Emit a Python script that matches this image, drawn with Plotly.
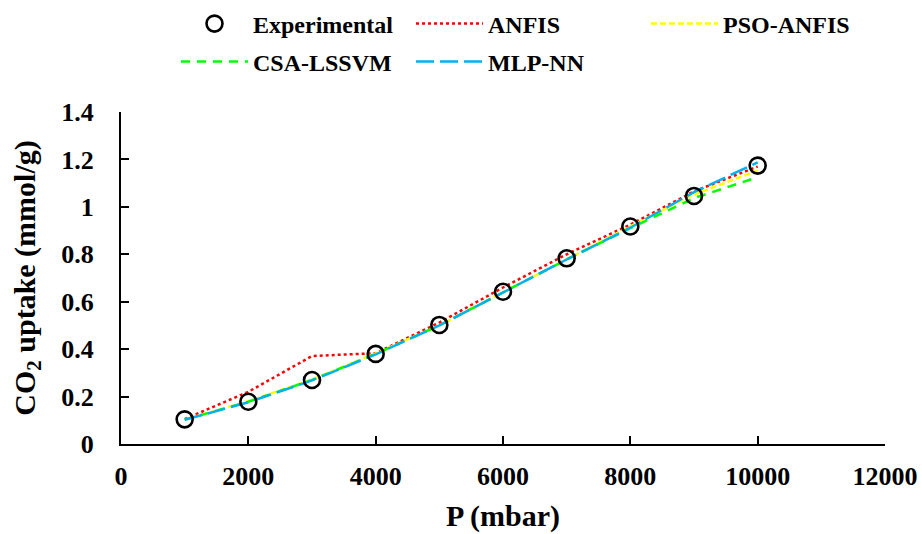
import plotly.graph_objects as go

pressure = [1000, 2000, 3000, 4000, 5000, 6000, 7000, 8000, 9000, 10000]
experimental = [0.104, 0.178, 0.270, 0.380, 0.502, 0.642, 0.783, 0.917, 1.046, 1.174]
anfis = [0.105, 0.220, 0.371, 0.383, 0.512, 0.660, 0.800, 0.925, 1.065, 1.170]
pso_anfis = [0.103, 0.180, 0.272, 0.382, 0.500, 0.640, 0.780, 0.918, 1.052, 1.153]
csa_lssvm = [0.103, 0.178, 0.270, 0.380, 0.500, 0.640, 0.778, 0.910, 1.037, 1.125]
mlp_nn = [0.102, 0.176, 0.268, 0.378, 0.500, 0.638, 0.778, 0.912, 1.062, 1.188]

x_ticks = [0, 2000, 4000, 6000, 8000, 10000, 12000]
y_ticks = [0, 0.2, 0.4, 0.6, 0.8, 1.0, 1.2, 1.4]
y_tick_text = ["0", "0.2", "0.4", "0.6", "0.8", "1", "1.2", "1.4"]

FONT = "Liberation Serif"

fig = go.Figure()
fig.add_trace(go.Scatter(x=pressure, y=anfis, mode="lines", name="ANFIS",
                         line=dict(color="#ff0000", width=2.5, dash="dot"),
                         legend="legend", legendrank=2))
fig.add_trace(go.Scatter(x=pressure, y=pso_anfis, mode="lines", name="PSO-ANFIS",
                         line=dict(color="#ffff00", width=2.5, dash="6px,3px"),
                         legend="legend", legendrank=3))
fig.add_trace(go.Scatter(x=pressure, y=csa_lssvm, mode="lines", name="CSA-LSSVM",
                         line=dict(color="#00ff00", width=2.5, dash="9px,7px"),
                         legend="legend2", legendrank=4))
fig.add_trace(go.Scatter(x=pressure, y=mlp_nn, mode="lines", name="MLP-NN",
                         line=dict(color="#00b0f0", width=2.5, dash="18px,6px"),
                         legend="legend2", legendrank=5))
fig.add_trace(go.Scatter(x=pressure, y=experimental, mode="markers", name="Experimental",
                         marker=dict(symbol="circle-open", size=16, color="black",
                                     line=dict(width=2.6, color="black")),
                         legend="legend", legendrank=1))

legend_common = dict(
    orientation="h",
    xref="container", yref="container",
    xanchor="left", yanchor="middle",
    font=dict(family=FONT, size=24, color="black", weight="bold"),
    itemwidth=67,
    entrywidth=153, entrywidthmode="pixels",
    bgcolor="rgba(0,0,0,0)",
    traceorder="normal",
)

fig.update_layout(
    width=922, height=534,
    margin=dict(l=121, r=37, t=112, b=90, autoexpand=False),
    paper_bgcolor="white", plot_bgcolor="white",
    font=dict(family=FONT, color="black"),
    legend=dict(x=176 / 922, y=1 - 24 / 534, **legend_common),
    legend2=dict(x=176 / 922, y=1 - 62 / 534, **legend_common),
    xaxis=dict(
        range=[0, 12000], tickvals=x_ticks, ticktext=[str(v) for v in x_ticks],
        showline=True, linecolor="black", linewidth=2,
        ticks="inside", ticklen=8, tickwidth=2, tickcolor="black",
        showgrid=False, zeroline=False, mirror=False, automargin=False,
        tickfont=dict(family=FONT, size=26, color="black", weight="bold"),
        ticklabelstandoff=8,
        title=dict(text="P (mbar)", standoff=15,
                   font=dict(family=FONT, size=30, color="black", weight="bold")),
    ),
    yaxis=dict(
        range=[0, 1.4], tickvals=y_ticks, ticktext=y_tick_text,
        showline=True, linecolor="black", linewidth=2,
        ticks="inside", ticklen=8, tickwidth=2, tickcolor="black",
        showgrid=False, zeroline=False, mirror=False, automargin=False,
        tickfont=dict(family=FONT, size=26, color="black", weight="bold"),
        ticklabelstandoff=20,
        title=dict(text="CO<sub>2</sub> uptake (mmol/g)", standoff=17,
                   font=dict(family=FONT, size=30, color="black", weight="bold")),
    ),
    showlegend=True,
)

fig.write_html("out.html")
